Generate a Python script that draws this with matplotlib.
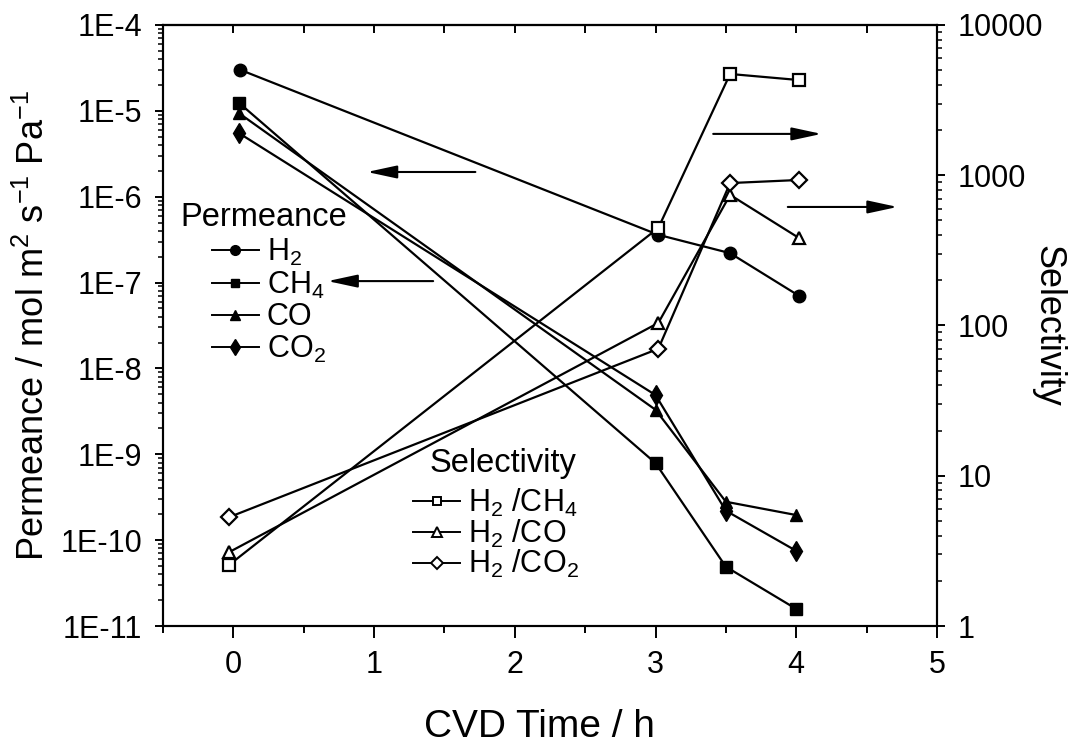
import numpy as np
import matplotlib.pyplot as plt
from matplotlib.lines import Line2D
from matplotlib.ticker import LogLocator, FuncFormatter, NullFormatter, MultipleLocator

plt.rcParams['font.family'] = ['Liberation Sans', 'DejaVu Sans']
plt.rcParams['mathtext.fontset'] = 'custom'
plt.rcParams['mathtext.rm'] = 'Liberation Sans'
plt.rcParams['mathtext.it'] = 'Liberation Sans:italic'
plt.rcParams['mathtext.bf'] = 'Liberation Sans:bold'

# CVD time / h (points are slightly offset in the original plot)
t_h2 = [0.05, 3.02, 3.53, 4.02]
t_perm = [0.04, 3.0, 3.5, 4.0]
t_sel = [-0.03, 3.02, 3.53, 4.02]

# permeance / mol m-2 s-1 Pa-1
perm_h2 = [3.0e-5, 3.6e-7, 2.2e-7, 7.0e-8]
perm_ch4 = [1.24e-5, 7.9e-10, 4.9e-11, 1.58e-11]
perm_co = [9.4e-6, 3.3e-9, 2.8e-10, 1.96e-10]
perm_co2 = [5.5e-6, 4.9e-9, 2.2e-10, 7.5e-11]

# selectivity
sel_ch4 = [2.55, 446, 4720, 4300]
sel_co = [3.1, 104, 740, 382]
sel_co2 = [5.3, 70, 887, 930]

perm_labels = ['H$_2$', 'CH$_4$', 'CO', 'CO$_2$']
sel_labels = ['H$_2$ /CH$_4$', 'H$_2$ /CO', 'H$_2$ /CO$_2$']

fig = plt.figure(figsize=(10.9, 7.48), dpi=100)
ax = fig.add_axes([0.1495, 0.1631, 0.7101, 0.8035])
ax2 = ax.twinx()

lw = 1.6
ax.plot(t_h2, perm_h2, 'k-', marker='o', ms=9, lw=lw)
ax.plot(t_perm, perm_ch4, 'k-', marker='s', ms=8, lw=lw)
ax.plot(t_perm, perm_co, 'k-', marker='^', ms=9, lw=lw)
ax.plot(t_perm, perm_co2, 'k-', marker='d', ms=10, lw=lw)

ow = dict(color='k', mfc='white', mec='k', mew=1.6, lw=lw)
ax2.plot(t_sel, sel_ch4, marker='s', ms=8, **ow)
ax2.plot(t_sel, sel_co, marker='^', ms=9, **ow)
ax2.plot(t_sel, sel_co2, marker='D', ms=8, **ow)

ax.set_xlim(-0.5, 5)
ax.set_yscale('log')
ax.set_ylim(1e-11, 1e-4)
ax2.set_yscale('log')
ax2.set_ylim(1, 1e4)

ax.xaxis.set_major_locator(MultipleLocator(1))
ax.xaxis.set_minor_locator(MultipleLocator(0.5))
ax.yaxis.set_major_locator(LogLocator(base=10, numticks=20))
ax.yaxis.set_minor_locator(LogLocator(base=10, subs=np.arange(2, 10), numticks=20))
ax.yaxis.set_major_formatter(FuncFormatter(lambda v, p: '1E%d' % round(np.log10(v))))
ax.yaxis.set_minor_formatter(NullFormatter())
ax2.yaxis.set_major_locator(LogLocator(base=10, numticks=20))
ax2.yaxis.set_minor_locator(LogLocator(base=10, subs=np.arange(2, 10), numticks=20))
ax2.yaxis.set_major_formatter(FuncFormatter(lambda v, p: '%g' % v))
ax2.yaxis.set_minor_formatter(NullFormatter())

ax.tick_params(axis='x', which='major', direction='out', length=8.5, width=1.4, labelsize=22, pad=9)
ax.tick_params(axis='x', which='minor', direction='out', length=5, width=1.4)
ax.tick_params(axis='y', which='major', direction='out', length=6, width=1.4, labelsize=22, pad=9)
ax.tick_params(axis='y', which='minor', direction='out', length=3.5, width=1.1)
ax2.tick_params(axis='y', which='major', direction='out', length=6, width=1.4, labelsize=22, pad=9)
ax2.tick_params(axis='y', which='minor', direction='out', length=3.5, width=1.1)

top = ax.secondary_xaxis('top')
top.set_xticks(np.arange(0, 5, 0.5))
top.tick_params(direction='in', length=6, width=1.4, labeltop=False)

for a in (ax, ax2):
    for s in a.spines.values():
        s.set_linewidth(1.5)
top.spines['top'].set_linewidth(1.5)

ax.set_xlabel('CVD Time / h', fontsize=28, va='center')
ax.xaxis.set_label_coords(0.487, -0.168)
ax.set_ylabel('Permeance / mol m$^{2}$ s$^{-1}$ Pa$^{-1}$', fontsize=26, labelpad=6)
ax2.set_ylabel('Selectivity', fontsize=26, rotation=270, ha='center', va='center')
ax2.yaxis.set_label_coords(1.143, 0.5)

# arrows pointing to the relevant axis
arr = dict(arrowstyle='-|>,head_length=1.3,head_width=0.28', mutation_scale=14,
           color='k', lw=1.5, shrinkA=0, shrinkB=0)
ax.annotate('', xy=(0.95, 1.94e-6), xytext=(1.72, 1.94e-6), arrowprops=arr)
ax.annotate('', xy=(0.67, 1.04e-7), xytext=(1.42, 1.04e-7), arrowprops=arr)
ax2.annotate('', xy=(4.18, 1884), xytext=(3.41, 1884), arrowprops=arr)
ax2.annotate('', xy=(4.72, 615), xytext=(3.94, 615), arrowprops=arr)

# legends
ax2.text(0.022, 0.679, 'Permeance', transform=ax.transAxes, fontsize=23.5, va='center', ha='left')
ph = [Line2D([], [], color='k', lw=1.4, marker=m, ms=s) for m, s in zip(['o', 's', '^', 'd'], [7, 6, 7, 8])]
leg1 = ax2.legend(ph, perm_labels, loc='upper left', bbox_to_anchor=(0.063, 0.647), frameon=False,
                  fontsize=22, handlelength=1.55, handletextpad=0.25, labelspacing=0.05,
                  borderpad=0, borderaxespad=0)
ax2.add_artist(leg1)

ax2.text(0.345, 0.271, 'Selectivity', transform=ax.transAxes, fontsize=23.5, va='center', ha='left')
sh = [Line2D([], [], color='k', lw=1.4, marker=m, ms=s, mfc='white', mec='k', mew=1.4)
      for m, s in zip(['s', '^', 'D'], [6, 7, 6])]
ax2.legend(sh, sel_labels, loc='upper left', bbox_to_anchor=(0.323, 0.231), frameon=False,
           fontsize=22, handlelength=1.55, handletextpad=0.25, labelspacing=-0.05,
           borderpad=0, borderaxespad=0)

fig.savefig('out.png', dpi=100)
